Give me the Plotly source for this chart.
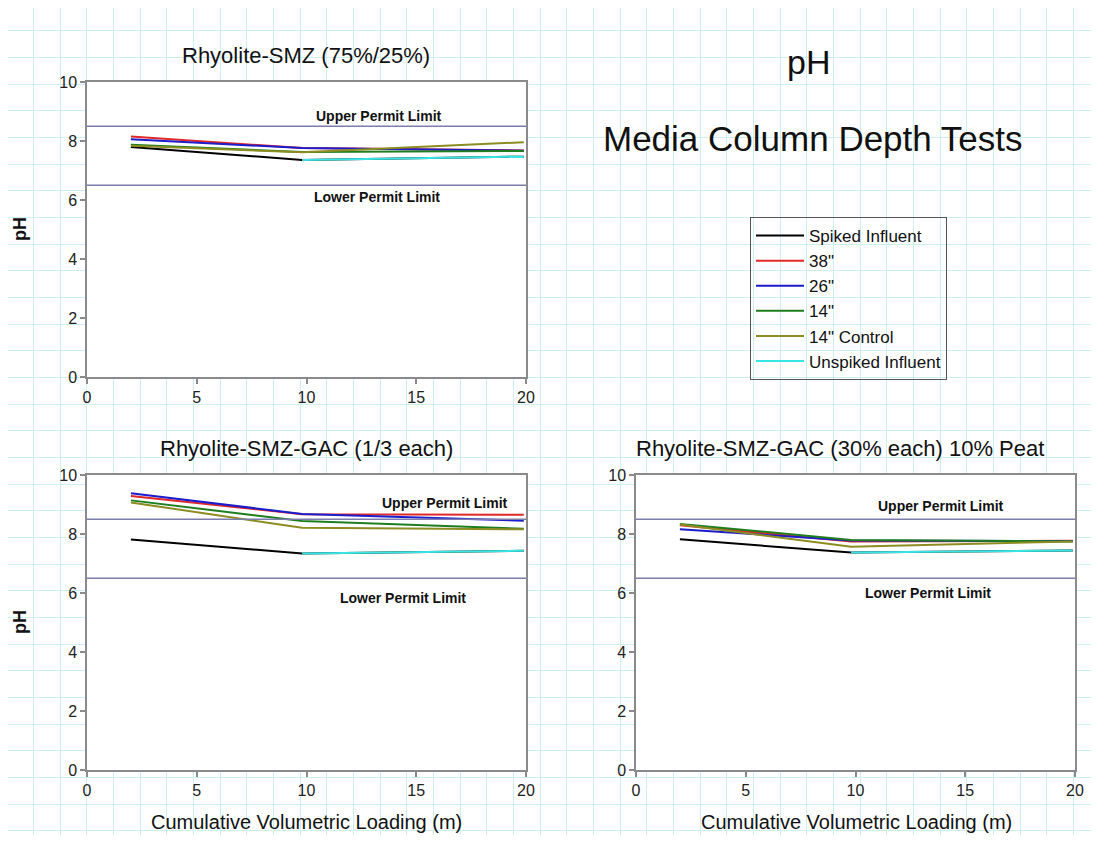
import plotly.graph_objects as go

# cumulative volumetric loading (m)
x_pts = [2, 9.8, 19.9]
x_unspiked = [9.8, 19.9]

series_names = ['Spiked Influent', '38"', '26"', '14"', '14" Control', 'Unspiked Influent']
series_colors = ['#000000', '#e02828', '#1c1ccc', '#1e7d1e', '#8c8c22', '#38e4e4']

# pH, Rhyolite-SMZ (75%/25%)
smz_spiked = [7.80, 7.36, 7.47]
smz_38 = [8.15, 7.76, 7.68]
smz_26 = [8.06, 7.76, 7.67]
smz_14 = [7.87, 7.63, 7.66]
smz_14c = [7.84, 7.62, 7.96]
smz_unspiked = [7.36, 7.47]

# pH, Rhyolite-SMZ-GAC (1/3 each)
gac_spiked = [7.81, 7.34, 7.43]
gac_38 = [9.29, 8.67, 8.65]
gac_26 = [9.38, 8.68, 8.45]
gac_14 = [9.14, 8.44, 8.18]
gac_14c = [9.07, 8.21, 8.16]
gac_unspiked = [7.34, 7.43]

# pH, Rhyolite-SMZ-GAC (30% each) 10% Peat
peat_spiked = [7.82, 7.37, 7.44]
peat_38 = [8.30, 7.75, 7.77]
peat_26 = [8.16, 7.78, 7.76]
peat_14 = [8.34, 7.80, 7.75]
peat_14c = [8.32, 7.57, 7.75]
peat_unspiked = [7.37, 7.44]

upper_limit = 8.5
lower_limit = 6.5

# page is 1099x843 but the html body keeps an 8px margin
OFF = 8
W, H = 1099 - 2 * OFF, 843 - 2 * OFF
FONT = 'Liberation Sans, Arial, sans-serif'


def fx(px):
    return (px - OFF) / W


def fy(py):
    return 1 - (py - OFF) / H


panels = [
    dict(title='Rhyolite-SMZ (75%/25%)', ax='2',
         data=[smz_spiked, smz_38, smz_26, smz_14, smz_14c, smz_unspiked],
         px=(87, 526), py=(82, 377), tx=306, ty=55,
         upper=(13.3, 8.85), lower=(13.2, 6.1)),
    dict(title='Rhyolite-SMZ-GAC (1/3 each)', ax='3',
         data=[gac_spiked, gac_38, gac_26, gac_14, gac_14c, gac_unspiked],
         px=(87, 526), py=(475, 770), tx=306, ty=448,
         upper=(16.3, 9.05), lower=(14.4, 5.83)),
    dict(title='Rhyolite-SMZ-GAC (30% each) 10% Peat', ax='4',
         data=[peat_spiked, peat_38, peat_26, peat_14, peat_14c, peat_unspiked],
         px=(636, 1075), py=(475, 770), tx=840, ty=448,
         upper=(13.9, 8.95), lower=(13.3, 6.0)),
]

fig = go.Figure()

# graph-paper background on a full-page axis
fig.add_trace(go.Scatter(x=[None], y=[None], xaxis='x', yaxis='y',
                         showlegend=False, hoverinfo='skip'))
grid_col = '#cdeff1'
layout = dict(
    xaxis=dict(domain=[0, 1], range=[OFF, OFF + W], tick0=6.7, dtick=26.67,
               showgrid=True, gridcolor=grid_col, gridwidth=1, automargin=False,
               showticklabels=False, ticks='', zeroline=False, showline=False,
               fixedrange=True),
    yaxis=dict(domain=[0, 1], range=[OFF + H, OFF], tick0=4, dtick=26.67,
               showgrid=True, gridcolor=grid_col, gridwidth=1, automargin=False,
               showticklabels=False, ticks='', zeroline=False, showline=False,
               fixedrange=True),
)

shapes = []
annotations = []


def note(text, x, y, size, **kw):
    d = dict(text=text, x=x, y=y, xref='paper', yref='paper', showarrow=False,
             xanchor='center', yanchor='middle',
             font=dict(family=FONT, size=size, color='#111111'))
    d.update(kw)
    return d


for p in panels:
    a = p['ax']
    xr, yr = 'x' + a, 'y' + a
    for i, (name, col) in enumerate(zip(series_names, series_colors)):
        xs = x_unspiked if i == 5 else x_pts
        fig.add_trace(go.Scatter(
            x=xs, y=p['data'][i], mode='lines', name=name,
            line=dict(color=col, width=2),
            xaxis=xr, yaxis=yr, showlegend=(a == '2'),
        ))
    ax_common = dict(showline=True, linecolor='#8a8a8a', linewidth=1.5, mirror=True,
                     ticks='outside', ticklen=5, tickcolor='#8a8a8a', tickwidth=1.5,
                     showgrid=False, zeroline=False, automargin=False,
                     tickfont=dict(family=FONT, size=16, color='#222222'))
    layout['xaxis' + a] = dict(ax_common, domain=[fx(p['px'][0]), fx(p['px'][1])],
                               range=[0, 20], dtick=5, anchor=yr)
    layout['yaxis' + a] = dict(ax_common, domain=[fy(p['py'][1]), fy(p['py'][0])],
                               range=[0, 10], dtick=2, anchor=xr)
    # white plot area above the graph paper
    shapes.append(dict(type='rect', xref=xr, yref=yr, x0=0, x1=20, y0=0, y1=10,
                       fillcolor='white', line=dict(width=0), layer='below'))
    for lim in (upper_limit, lower_limit):
        shapes.append(dict(type='line', xref=xr + ' domain', yref=yr, x0=0, x1=1,
                           y0=lim, y1=lim, line=dict(color='#7c7cae', width=1.5)))
    for txt, pos in (('Upper Permit Limit', p['upper']), ('Lower Permit Limit', p['lower'])):
        annotations.append(dict(text='<b>' + txt + '</b>', x=pos[0], y=pos[1], xref=xr, yref=yr,
                                showarrow=False, xanchor='center', yanchor='middle',
                                font=dict(family=FONT, size=14, color='#111111')))
    annotations.append(note(p['title'], fx(p['tx']), fy(p['ty']), 22))

# axis titles (sit on the bottom edge of the figure)
for cx in (306, 856):
    annotations.append(note('Cumulative Volumetric Loading (m)', fx(cx), 0, 20,
                            yanchor='bottom'))
for cy in (229, 622):
    annotations.append(note('<b>pH</b>', fx(20), fy(cy), 18, textangle=-90))

annotations.append(note('pH', fx(808), fy(62), 34))
annotations.append(note('Media Column Depth Tests', fx(813), fy(138), 35))

fig.update_layout(
    **layout,
    shapes=shapes,
    annotations=annotations,
    width=W, height=H,
    margin=dict(l=0, r=0, t=0, b=0),
    paper_bgcolor='white',
    plot_bgcolor='white',
    showlegend=True,
    legend=dict(x=fx(750), y=fy(217), xanchor='left', yanchor='top',
                bgcolor='rgba(0,0,0,0)', bordercolor='#555555', borderwidth=1,
                font=dict(family=FONT, size=17, color='#111111'),
                tracegroupgap=0, itemwidth=48),
)

fig.write_html('out.html')
